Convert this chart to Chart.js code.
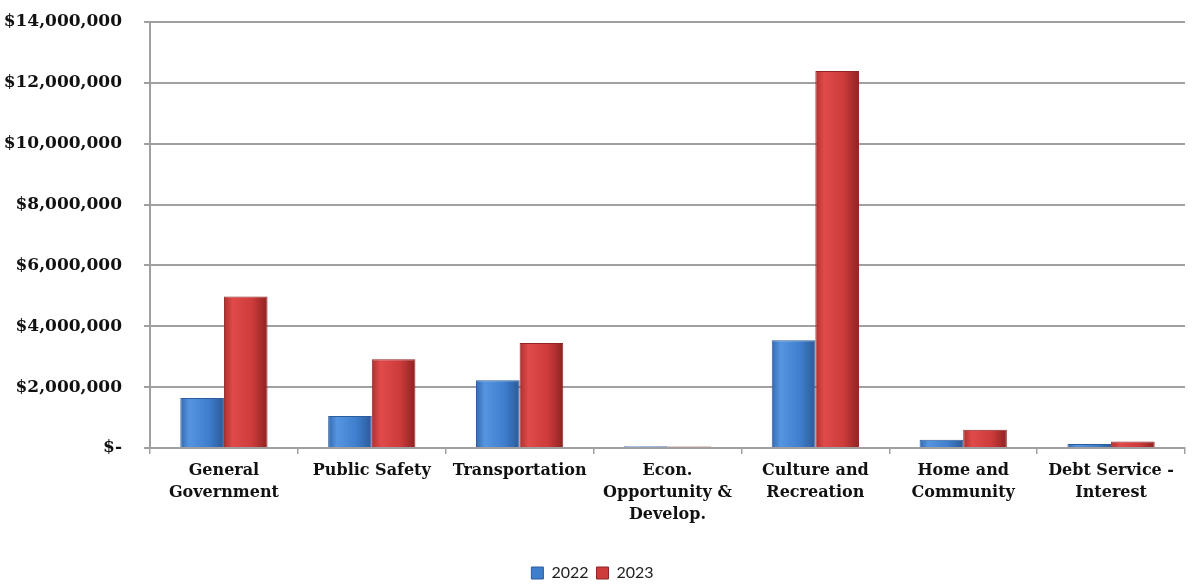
<!DOCTYPE html>
<html lang="en">
<head>
    <meta charset="UTF-8">
    <title>Expenditures 2022 vs 2023</title>
    <script src="https://cdn.jsdelivr.net/npm/chart.js"></script>
    <style>
        html, body { margin: 0; padding: 0; background: #fff; }
        #wrap { width: 1204px; height: 584px; }
    </style>
</head>
<body>
    <div id="wrap"><canvas id="spendChart"></canvas></div>

    <script>
        const categories = [
            ['General', 'Government'],
            ['Public Safety'],
            ['Transportation'],
            ['Econ.', 'Opportunity &', 'Develop.'],
            ['Culture and', 'Recreation'],
            ['Home and', 'Community'],
            ['Debt Service -', 'Interest']
        ];
        const values2022 = [1640000, 1050000, 2230000, 60000, 3540000, 270000, 130000];
        const values2023 = [4980000, 2920000, 3450000, 50000, 12390000, 600000, 210000];
        const yTicks = [0, 2000000, 4000000, 6000000, 8000000, 10000000, 12000000, 14000000];

        const catPct = 0.59;
        // shades for the beveled look: edge, light, mid, dark edge
        const blueShades = ['#3369b0', '#5595e0', '#3e7ecd', '#2c5a98'];
        const redShades = ['#ae3030', '#e04a4a', '#cd3b3b', '#8e2222'];

        function money(v) {
            if (v === 0) return '$-';
            return '$' + v.toLocaleString('en-US');
        }

        // horizontal gradient across each bar, positioned from the x scale
        function barFill(shades, side) {
            return function (c) {
                const chart = c.chart;
                const xs = chart.scales.x;
                if (c.type !== 'data' || !chart.chartArea || !xs || !xs.width) return shades[2];
                const cw = xs.width / categories.length;
                const bw = cw * catPct / 2;
                const mid = xs.getPixelForValue(c.dataIndex);
                const left = side === 0 ? mid - bw : mid;
                const g = chart.ctx.createLinearGradient(left, 0, left + bw, 0);
                g.addColorStop(0, shades[0]);
                g.addColorStop(0.2, shades[1]);
                g.addColorStop(0.65, shades[2]);
                g.addColorStop(1, shades[3]);
                return g;
            };
        }

        const ctx = document.getElementById('spendChart').getContext('2d');
        new Chart(ctx, {
            type: 'bar',
            data: {
                labels: categories,
                datasets: [
                    {
                        label: '2022',
                        data: values2022,
                        backgroundColor: barFill(blueShades, 0),
                        borderColor: '#2b5c9c',
                        borderWidth: 1
                    },
                    {
                        label: '2023',
                        data: values2023,
                        backgroundColor: barFill(redShades, 1),
                        borderColor: '#8e2424',
                        borderWidth: 1
                    }
                ]
            },
            options: {
                responsive: true,
                maintainAspectRatio: false,
                animation: false,
                // negative bottom pushes the legend a little lower, like the original
                layout: { padding: { top: 22, right: 19, left: 0, bottom: -7 } },
                datasets: {
                    bar: { categoryPercentage: catPct, barPercentage: 1.0 }
                },
                plugins: {
                    tooltip: { enabled: false },
                    legend: {
                        position: 'bottom',
                        labels: {
                            boxWidth: 12,
                            boxHeight: 12,
                            padding: 8,
                            color: '#222',
                            font: { family: 'Lato', size: 16 },
                            generateLabels: function (chart) {
                                const fills = [blueShades[2], redShades[2]];
                                return chart.data.datasets.map((ds, i) => ({
                                    text: ds.label,
                                    fillStyle: fills[i],
                                    strokeStyle: ds.borderColor,
                                    lineWidth: 1,
                                    fontColor: '#222',
                                    datasetIndex: i
                                }));
                            }
                        }
                    }
                },
                scales: {
                    x: {
                        grid: {
                            offset: true,
                            drawOnChartArea: false,
                            drawTicks: true,
                            tickLength: 6,
                            color: '#a0a0a0',
                            lineWidth: 1.5
                        },
                        border: { color: '#a0a0a0', width: 2 },
                        ticks: {
                            autoSkip: false,
                            maxRotation: 0,
                            padding: 6,
                            color: '#111',
                            font: { family: 'DejaVu Serif', size: 16, weight: 'bold', lineHeight: 1.375 }
                        },
                        afterFit: function (scale) { scale.height = 109; }
                    },
                    y: {
                        min: 0,
                        max: 14000000,
                        afterBuildTicks: function (scale) {
                            scale.ticks = yTicks.map(v => ({ value: v }));
                        },
                        grid: {
                            color: '#a0a0a0',
                            lineWidth: 2,
                            drawTicks: true,
                            tickLength: 6
                        },
                        border: { color: '#a0a0a0', width: 2 },
                        ticks: {
                            padding: 22,
                            color: '#111',
                            font: { family: 'DejaVu Serif', size: 17, weight: 'bold' },
                            callback: function (v) { return money(v); }
                        },
                        afterFit: function (scale) {
                            scale.width = 150;
                            scale.paddingTop = 0;
                            scale.paddingBottom = 0;
                        }
                    }
                }
            }
        });
    </script>
</body>
</html>
